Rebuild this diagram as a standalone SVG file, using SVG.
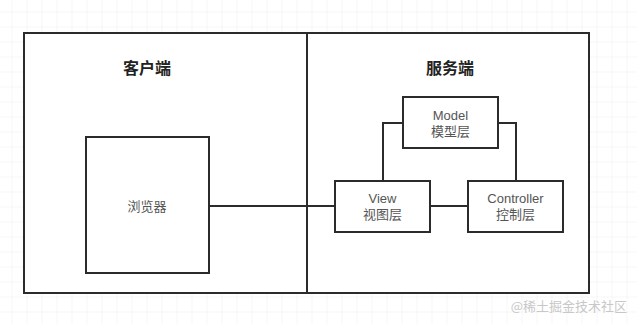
<svg xmlns="http://www.w3.org/2000/svg" width="637" height="324" viewBox="0 0 637 324">
<defs>
<pattern id="grid" x="-2.5" y="-2.5" width="15" height="15" patternUnits="userSpaceOnUse">
<path d="M15 0 L15 15 M0 15 L15 15" fill="none" stroke="#ececec" stroke-width="1"/>
</pattern>
</defs>
<style>
.box{fill:#ffffff;stroke:#2b2b2b;stroke-width:2}
.conn{fill:none;stroke:#2b2b2b;stroke-width:2}
.lbl{font-family:"Liberation Sans","Noto Sans CJK SC",sans-serif;font-size:13px;fill:#555555;text-anchor:middle}
.title{font-family:"Noto Sans CJK SC",sans-serif;font-size:16px;font-weight:bold;fill:#222222;text-anchor:middle}
.wm{font-family:"Noto Sans CJK SC",sans-serif;font-size:13px;fill:#c8c8c8;text-anchor:end}
</style>
<rect width="637" height="324" fill="#ffffff"/>
<rect width="637" height="324" fill="url(#grid)"/>
<g id="client">
<rect class="box" x="24" y="33" width="283" height="260"/>
<text class="title" x="147" y="74">客户端</text>
</g>
<g id="server">
<rect class="box" x="307" y="33" width="282" height="260"/>
<text class="title" x="450" y="74">服务端</text>
</g>
<g id="connectors">
<path class="conn" d="M209 206 H334"/>
<path class="conn" d="M430 206 H468"/>
<path class="conn" d="M403 123 H383 V181"/>
<path class="conn" d="M498 123 H516 V181"/>
</g>
<g id="browser">
<rect class="box" x="86" y="137" width="123" height="136"/>
<text class="lbl" x="147" y="211">浏览器</text>
</g>
<g id="model">
<rect class="box" x="403" y="97" width="95" height="51"/>
<text class="lbl" x="450.5" y="120">Model</text>
<text class="lbl" x="450.5" y="136">模型层</text>
</g>
<g id="view">
<rect class="box" x="335" y="181" width="95" height="51"/>
<text class="lbl" x="382.5" y="203">View</text>
<text class="lbl" x="382.5" y="219">视图层</text>
</g>
<g id="controller">
<rect class="box" x="468" y="181" width="95" height="51"/>
<text class="lbl" x="515.5" y="203">Controller</text>
<text class="lbl" x="515.5" y="219">控制层</text>
</g>
<text class="wm" x="627" y="311">@稀土掘金技术社区</text>
</svg>
